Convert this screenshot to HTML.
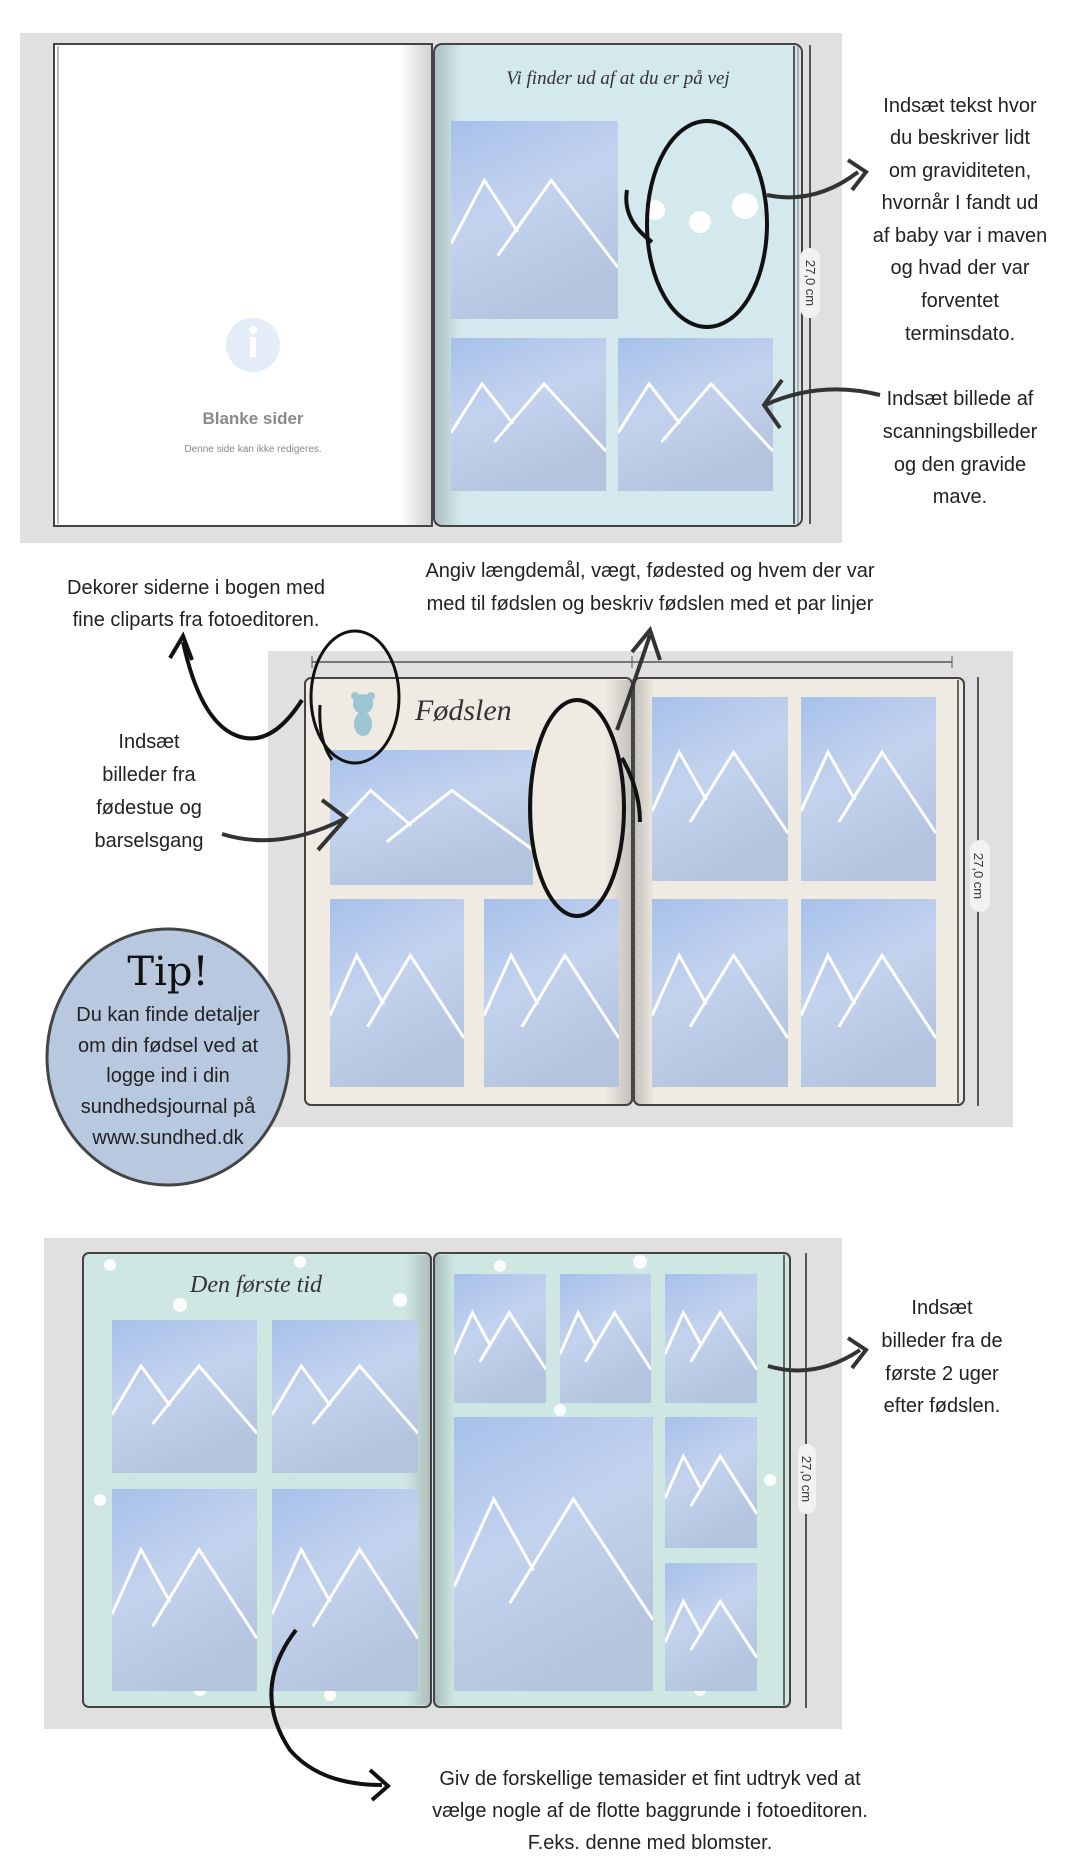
<!DOCTYPE html>
<html><head><meta charset="utf-8"><style>
html,body{margin:0;padding:0;background:#fff}
svg{display:block}
.n{font-family:"Liberation Sans Narrow","Liberation Sans",sans-serif;font-size:20px;fill:#222;text-anchor:middle}
.t{font-family:"Liberation Serif",serif;font-style:italic;fill:#333}
</style></head><body>
<svg width="1080" height="1868" viewBox="0 0 1080 1868" xmlns="http://www.w3.org/2000/svg">
<defs>
<linearGradient id="pg" x1="0" y1="0" x2="0.4" y2="1"><stop offset="0" stop-color="#a7c0ea"/><stop offset="0.5" stop-color="#c3d3ee"/><stop offset="1" stop-color="#b5c4de"/></linearGradient>
<linearGradient id="shL" x1="0" y1="0" x2="1" y2="0"><stop offset="0" stop-color="#000" stop-opacity="0"/><stop offset="1" stop-color="#000" stop-opacity="0.18"/></linearGradient>
<linearGradient id="shR" x1="0" y1="0" x2="1" y2="0"><stop offset="0" stop-color="#000" stop-opacity="0.18"/><stop offset="1" stop-color="#000" stop-opacity="0"/></linearGradient>
<symbol id="ph" viewBox="0 0 100 100" preserveAspectRatio="none">
<rect width="100" height="100" fill="url(#pg)"/>
<polyline points="0,62 20,30 40,56" fill="none" stroke="#fff" stroke-width="3" vector-effect="non-scaling-stroke"/>
<polyline points="28,68 60,30 100,74" fill="none" stroke="#fff" stroke-width="3" vector-effect="non-scaling-stroke"/>
</symbol>
</defs>

<!-- SECTION 1 -->
<rect x="20" y="33" width="822" height="510" fill="#e0e0e0"/>
<rect x="54" y="44" width="378" height="482" fill="#fff" stroke="#444" stroke-width="2"/>
<line x1="58" y1="46" x2="58" y2="524" stroke="#777"/>
<rect x="400" y="45" width="31" height="480" fill="url(#shL)"/>
<rect x="434" y="44" width="368" height="482" fill="#d3e9ed" stroke="#444" stroke-width="2" rx="8"/>
<rect x="435" y="45" width="26" height="480" fill="url(#shR)"/>
<line x1="794" y1="46" x2="794" y2="524" stroke="#555" stroke-width="2"/>
<line x1="798" y1="46" x2="798" y2="524" stroke="#777"/>
<line x1="810" y1="45" x2="810" y2="524" stroke="#555" stroke-width="2"/>
<rect x="800" y="248" width="20" height="70" rx="10" fill="#f2f2f2"/>
<text x="810" y="283" transform="rotate(90 810 283)" font-family="Liberation Sans" font-size="13" fill="#333" text-anchor="middle" dy="4">27,0 cm</text>
<text x="618" y="84" class="t" font-size="19" text-anchor="middle">Vi finder ud af at du er på vej</text>
<use href="#ph" x="451" y="121" width="167" height="198"/>
<use href="#ph" x="451" y="338" width="155" height="153"/>
<use href="#ph" x="618" y="338" width="155" height="153"/>
<g fill="#fff"><circle cx="655" cy="210" r="10"/><circle cx="700" cy="222" r="11"/><circle cx="745" cy="206" r="13"/></g>
<circle cx="253" cy="345" r="27" fill="#e4ecf7"/>
<rect x="250" y="337" width="6" height="20" fill="#fff"/><circle cx="253" cy="330" r="4" fill="#fff"/>
<text x="253" y="424" font-family="Liberation Sans" font-weight="bold" font-size="17" fill="#8a8a8a" text-anchor="middle">Blanke sider</text>
<text x="253" y="452" font-family="Liberation Sans" font-size="10" fill="#888" text-anchor="middle">Denne side kan ikke redigeres.</text>
<ellipse cx="707" cy="224" rx="60" ry="103" fill="none" stroke="#111" stroke-width="4"/>
<path d="M627 190 Q622 220 652 242" fill="none" stroke="#111" stroke-width="4"/>
<path d="M767 195 Q815 205 858 172" fill="none" stroke="#333" stroke-width="4"/>
<path d="M848 160 L866 172 L852 190" fill="none" stroke="#333" stroke-width="4"/>
<path d="M880 395 Q820 380 765 405" fill="none" stroke="#333" stroke-width="4"/>
<path d="M782 380 L764 405 L780 428" fill="none" stroke="#333" stroke-width="4"/>
<g class="n"><text x="960" y="112">Indsæt tekst hvor</text><text x="960" y="144">du beskriver lidt</text><text x="960" y="177">om graviditeten,</text><text x="960" y="209">hvornår I fandt ud</text><text x="960" y="242">af baby var i maven</text><text x="960" y="274">og hvad der var</text><text x="960" y="307">forventet</text><text x="960" y="340">terminsdato.</text>
<text x="960" y="405">Indsæt billede af</text><text x="960" y="438">scanningsbilleder</text><text x="960" y="471">og den gravide</text><text x="960" y="503">mave.</text></g>

<!-- SECTION 2 -->
<rect x="268" y="651" width="745" height="476" fill="#e0e0e0"/>
<line x1="312" y1="662" x2="952" y2="662" stroke="#555" stroke-width="1.5"/>
<line x1="312" y1="656" x2="312" y2="668" stroke="#555"/><line x1="952" y1="656" x2="952" y2="668" stroke="#555"/><line x1="632" y1="656" x2="632" y2="668" stroke="#555"/>
<rect x="305" y="678" width="327" height="427" fill="#efebe3" stroke="#444" stroke-width="2" rx="6"/>
<rect x="634" y="678" width="330" height="427" fill="#efebe3" stroke="#444" stroke-width="2" rx="6"/>
<rect x="605" y="680" width="26" height="424" fill="url(#shL)"/>
<rect x="635" y="680" width="20" height="424" fill="url(#shR)"/>
<line x1="633" y1="679" x2="633" y2="1103" stroke="#555" stroke-dasharray="3 3"/>
<line x1="958" y1="680" x2="958" y2="1103" stroke="#666" stroke-width="2"/>
<line x1="978" y1="677" x2="978" y2="1106" stroke="#555" stroke-width="2"/>
<rect x="970" y="840" width="20" height="72" rx="10" fill="#f2f2f2"/>
<text x="978" y="876" transform="rotate(90 978 876)" font-family="Liberation Sans" font-size="13" fill="#333" text-anchor="middle" dy="4">27,0 cm</text>
<text x="415" y="720" class="t" font-size="30">Fødslen</text>
<circle cx="363" cy="704" r="10" fill="#9cc7d2"/><ellipse cx="363" cy="724" rx="9" ry="12" fill="#9cc7d2"/><circle cx="355" cy="696" r="4" fill="#9cc7d2"/><circle cx="371" cy="696" r="4" fill="#9cc7d2"/>
<use href="#ph" x="330" y="750" width="203" height="135"/>
<use href="#ph" x="330" y="899" width="134" height="188"/>
<use href="#ph" x="484" y="899" width="135" height="188"/>
<use href="#ph" x="652" y="697" width="136" height="184"/>
<use href="#ph" x="801" y="697" width="135" height="184"/>
<use href="#ph" x="652" y="899" width="136" height="188"/>
<use href="#ph" x="801" y="899" width="135" height="188"/>
<ellipse cx="355" cy="697" rx="44" ry="66" fill="none" stroke="#111" stroke-width="3"/>
<path d="M320 705 Q318 740 332 760" fill="none" stroke="#111" stroke-width="3"/>
<ellipse cx="577" cy="808" rx="47" ry="108" fill="none" stroke="#111" stroke-width="4"/>
<path d="M622 758 Q640 790 640 822" fill="none" stroke="#111" stroke-width="4"/>
<path d="M302 700 Q270 750 235 735 Q200 720 183 642" fill="none" stroke="#111" stroke-width="4"/>
<path d="M170 658 L183 636 L192 660" fill="none" stroke="#111" stroke-width="4"/>
<path d="M617 730 Q635 680 650 635" fill="none" stroke="#333" stroke-width="4"/>
<path d="M632 652 L650 630 L660 660" fill="none" stroke="#333" stroke-width="4"/>
<path d="M222 834 Q280 852 346 818" fill="none" stroke="#333" stroke-width="4"/>
<path d="M322 800 L346 818 L318 850" fill="none" stroke="#333" stroke-width="4"/>
<g class="n"><text x="196" y="594">Dekorer siderne i bogen med</text><text x="196" y="626">fine cliparts fra fotoeditoren.</text>
<text x="650" y="577">Angiv længdemål, vægt, fødested og hvem der var</text><text x="650" y="610">med til fødslen og  beskriv fødslen med et par linjer</text>
<text x="149" y="748">Indsæt</text><text x="149" y="781">billeder fra</text><text x="149" y="814">fødestue og</text><text x="149" y="847">barselsgang</text></g>
<ellipse cx="168" cy="1057" rx="121" ry="128" fill="#b8c8df" stroke="#444" stroke-width="3"/>
<text x="168" y="985" style="font-family:'DejaVu Serif','Liberation Serif',serif" font-size="40" fill="#111" text-anchor="middle">Tip!</text>
<g class="n" font-size="19"><text x="168" y="1021">Du kan finde detaljer</text><text x="168" y="1052">om din fødsel ved at</text><text x="168" y="1082">logge ind i din</text><text x="168" y="1113">sundhedsjournal på</text><text x="168" y="1144">www.sundhed.dk</text></g>

<!-- SECTION 3 -->
<rect x="44" y="1238" width="798" height="491" fill="#e0e0e0"/>
<rect x="83" y="1253" width="348" height="454" fill="#cfe7e3" stroke="#444" stroke-width="2" rx="6"/>
<rect x="434" y="1253" width="356" height="454" fill="#cfe7e3" stroke="#444" stroke-width="2" rx="6"/>
<rect x="405" y="1255" width="26" height="450" fill="url(#shL)"/>
<rect x="435" y="1255" width="20" height="450" fill="url(#shR)"/>
<line x1="784" y1="1255" x2="784" y2="1705" stroke="#666" stroke-width="2"/>
<line x1="806" y1="1253" x2="806" y2="1708" stroke="#555" stroke-width="2"/>
<rect x="798" y="1444" width="18" height="70" rx="9" fill="#f2f2f2"/>
<text x="806" y="1479" transform="rotate(90 806 1479)" font-family="Liberation Sans" font-size="13" fill="#333" text-anchor="middle" dy="4">27,0 cm</text>
<g fill="#fff" opacity="0.9"><circle cx="110" cy="1265" r="6"/><circle cx="180" cy="1305" r="7"/><circle cx="300" cy="1262" r="6"/><circle cx="400" cy="1300" r="7"/><circle cx="200" cy="1690" r="6"/><circle cx="330" cy="1695" r="6"/><circle cx="500" cy="1266" r="6"/><circle cx="640" cy="1262" r="7"/><circle cx="560" cy="1410" r="6"/><circle cx="700" cy="1690" r="6"/><circle cx="100" cy="1500" r="6"/><circle cx="770" cy="1480" r="6"/></g>
<text x="256" y="1292" class="t" font-size="24" text-anchor="middle">Den første tid</text>
<use href="#ph" x="112" y="1320" width="145" height="153"/>
<use href="#ph" x="272" y="1320" width="146" height="153"/>
<use href="#ph" x="112" y="1489" width="145" height="202"/>
<use href="#ph" x="272" y="1489" width="146" height="202"/>
<use href="#ph" x="454" y="1274" width="92" height="129"/>
<use href="#ph" x="560" y="1274" width="91" height="129"/>
<use href="#ph" x="665" y="1274" width="92" height="129"/>
<use href="#ph" x="454" y="1417" width="199" height="274"/>
<use href="#ph" x="665" y="1417" width="92" height="131"/>
<use href="#ph" x="665" y="1563" width="92" height="128"/>
<path d="M768 1366 Q815 1380 860 1350" fill="none" stroke="#333" stroke-width="4"/>
<path d="M848 1338 L866 1350 L852 1368" fill="none" stroke="#333" stroke-width="4"/>
<path d="M296 1630 Q250 1690 290 1750 Q320 1785 382 1785" fill="none" stroke="#111" stroke-width="4"/>
<path d="M370 1770 L388 1786 L372 1800" fill="none" stroke="#111" stroke-width="4"/>
<g class="n"><text x="942" y="1314">Indsæt</text><text x="942" y="1347">billeder fra de</text><text x="942" y="1380">første 2 uger</text><text x="942" y="1412">efter fødslen.</text>
<text x="650" y="1785">Giv de forskellige temasider et fint udtryk ved at</text><text x="650" y="1817">vælge nogle af de flotte baggrunde i fotoeditoren.</text><text x="650" y="1849">F.eks. denne med blomster.</text></g>
</svg>
</body></html>
